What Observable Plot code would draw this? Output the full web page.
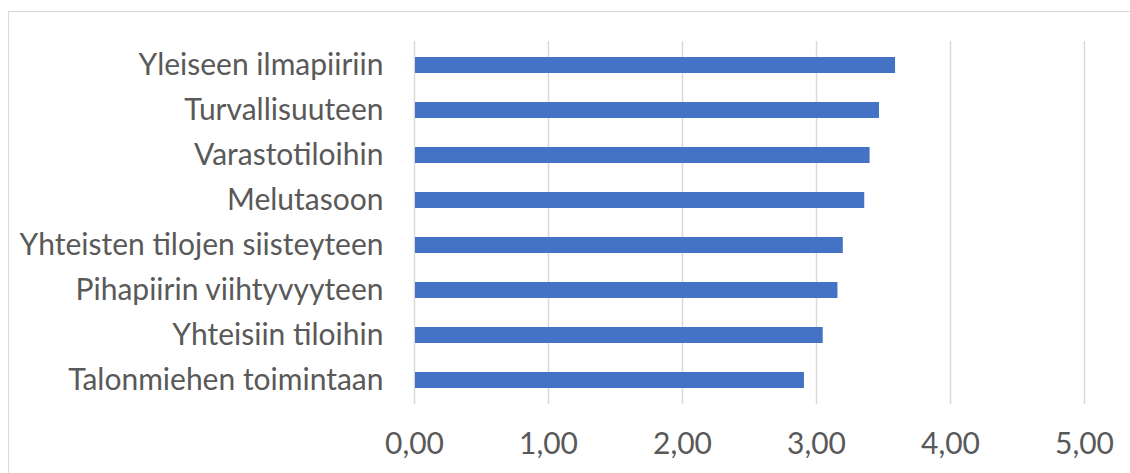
<!DOCTYPE html>
<html>
<head>
<meta charset="utf-8">
<script src="https://cdn.jsdelivr.net/npm/d3@7"></script>
<script src="https://cdn.jsdelivr.net/npm/@observablehq/plot@0.6"></script>
<style>
  html, body { margin: 0; padding: 0; background: #fff; overflow: hidden; }
  #wrap { position: relative; width: 1130px; height: 473px; }
  #frame { position: absolute; left: 8px; top: 11px; width: 1140px; height: 480px; border: 1.5px solid #D9D9D9; box-sizing: border-box; }
  #chart { position: absolute; left: 0; top: 0; }
</style>
</head>
<body>
<div id="wrap"><div id="frame"></div><div id="chart"></div></div>
<script>
const categories = [
  "Yleiseen ilmapiiriin",
  "Turvallisuuteen",
  "Varastotiloihin",
  "Melutasoon",
  "Yhteisten tilojen siisteyteen",
  "Pihapiirin viihtyvyyteen",
  "Yhteisiin tiloihin",
  "Talonmiehen toimintaan"
];
const values = [3.59, 3.47, 3.40, 3.36, 3.20, 3.16, 3.05, 2.91];
const xTicks = [0, 1, 2, 3, 4, 5];

const data = categories.map((c, i) => ({category: c, value: values[i]}));
const fmt = d => d3.format(".2f")(d).replace(".", ",");

const chart = Plot.plot({
  width: 1130,
  height: 473,
  marginLeft: 414,
  marginRight: 46,
  marginTop: 41,
  marginBottom: 69,
  style: {fontFamily: "Lato, 'Open Sans', sans-serif", fontSize: "30px", color: "#595959", background: "transparent"},
  x: {domain: [0, 5]},
  y: {domain: categories, paddingInner: 0.65, paddingOuter: 0.325},
  marks: [
    Plot.ruleX(xTicks, {stroke: "#D9D9D9", strokeWidth: 1.5, strokeOpacity: 1}),
    Plot.barX(data, {x: "value", y: "category", fill: "#4472C4", insetLeft: 1}),
    Plot.axisX({ticks: xTicks, tickFormat: fmt, tickSize: 0, tickPadding: 28, fill: "#595959", fontSize: 30, label: null}),
    Plot.axisY({tickSize: 0, tickPadding: 31, fill: "#595959", fontSize: 30, label: null})
  ]
});
document.getElementById("chart").appendChild(chart);
</script>
</body>
</html>
